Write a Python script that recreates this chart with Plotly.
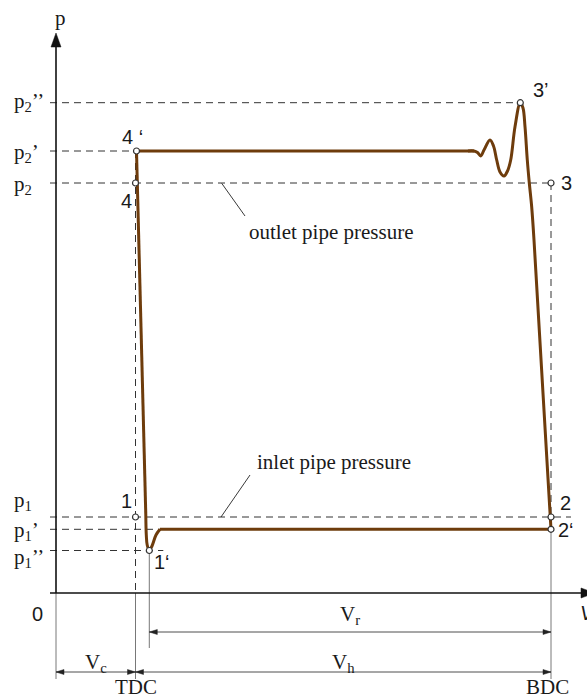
import plotly.graph_objects as go

# ---------------- data (V: volume units, p: pressure units) ----------------
V_TDC = 79.5
V_BDC = 495.0
V_1p = 93.3
V_3p = 464.3

level_names = ["p<sub>2</sub>’’", "p<sub>2</sub>’", "p<sub>2</sub>", "p<sub>1</sub>", "p<sub>1</sub>’", "p<sub>1</sub>’’"]
level_values = [490.3, 442.0, 410.0, 76.0, 63.7, 42.5]

state_labels = ["1", "1‘", "2", "2‘", "3", "3’", "4", "4 ‘"]
state_V = [79.5, 93.3, 495.0, 495.0, 495.0, 464.3, 79.5, 80.5]
state_p = [76.0, 42.5, 76.0, 63.7, 410.0, 490.3, 410.0, 442.0]

# flat discharge line from 4'
flat_V = [80.5, 418]
flat_p = [442, 442]
# pressure oscillations up to 3' and start of compression end
osc_V = [412, 418, 421.5, 424.7, 428, 434, 437.5, 440.7, 444, 448, 451.5, 454.7, 459, 464.3, 467, 469, 471.3, 473.3, 475.7, 478]
osc_p = [442, 442, 440.5, 437, 443, 453, 447, 433, 421, 417, 422, 433, 466.3, 490.3, 485, 466.3, 433, 410, 386, 353]
# compression end and suction line
suct_V = [478, 491.3, 495, 495, 104]
suct_p = [353, 133, 76, 63.7, 63.7]
# suction start dip to 1'
dip_V = [104, 100, 96, 93.3, 91.2, 90.3, 89.8]
dip_p = [63.7, 58, 47, 42.5, 48, 58, 78]
# re-expansion line
reexp_V = [89.8, 80.7, 80.5]
reexp_p = [78, 410, 442]

# ---------------- figure ----------------
fig = go.Figure()
CURVE = "#6E3C0C"
DASH = "#333333"
THIN = "#555555"
SERIF = "Liberation Serif"
SANS = "Liberation Sans"

def hline(y, x0, x1, color=DASH, width=1, dash="7px,5px"):
    fig.add_shape(type="line", x0=x0, x1=x1, y0=y, y1=y, xref="x", yref="y",
                  line=dict(color=color, width=width, dash=dash), layer="below")

def vline(x, y0, y1, color=DASH, width=1, dash="7px,5px"):
    fig.add_shape(type="line", x0=x, x1=x, y0=y0, y1=y1, xref="x", yref="y",
                  line=dict(color=color, width=width, dash=dash), layer="below")

def tri(tx, ty, dx, dy, L, W, color="#111"):
    # arrowhead with tip (tx,ty) pointing in direction (dx,dy)
    bx, by = tx - dx * L, ty - dy * L
    px, py = -dy * W, dx * W
    path = f"M {tx},{ty} L {bx+px},{by+py} L {bx-px},{by-py} Z"
    fig.add_shape(type="path", path=path, xref="x", yref="y",
                  fillcolor=color, line=dict(color=color, width=0.5))

# dashed level lines
ends = [V_3p, 80.5, V_BDC, V_BDC + 20, 104, V_1p + 14]
for v, e in zip(level_values, ends):
    hline(v, -6, e)

# vertical reference lines
vline(V_TDC, 442, 0)
vline(V_TDC, 0, -86, color=THIN, width=0.8, dash="solid")
vline(V_1p, 42.5, -55, color=THIN, width=0.8, dash="solid")
vline(V_BDC, 410, 76)
vline(V_BDC, 63.7, -86, color=THIN, width=0.8, dash="solid")

# axes
vline(0, 0, -86, color=THIN, width=0.8, dash="solid")
vline(0, 0, 548, color="#111", width=1.6, dash="solid")
hline(0, -6, 527, color="#111", width=1.6, dash="solid")
tri(0, 560, 0, 1, 14, 5)
tri(539, 0, 1, 0, 14, 5)

# dimension lines
for (a, b, y) in [(V_1p, V_BDC, -39), (V_TDC, V_BDC, -79), (0, V_TDC, -79)]:
    hline(y, a, b, color="#222", width=0.8, dash="solid")
    tri(a, y, -1, 0, 8, 2.5, color="#222")
    tri(b, y, 1, 0, 8, 2.5, color="#222")

# leader lines
fig.add_shape(type="line", x0=165.7, y0=409.7, x1=189, y1=377, line=dict(color="#222", width=0.9))
fig.add_shape(type="line", x0=194, y0=118, x1=165, y1=76, line=dict(color="#222", width=0.9))

# cycle curve
for xs, ys, shp in [(flat_V, flat_p, "linear"), (osc_V, osc_p, "spline"),
                    (suct_V, suct_p, "linear"), (dip_V, dip_p, "spline"),
                    (reexp_V, reexp_p, "linear")]:
    fig.add_trace(go.Scatter(x=xs, y=ys, mode="lines",
                             line=dict(color=CURVE, width=3, shape=shp, smoothing=1.0),
                             hoverinfo="skip"))

# state points
fig.add_trace(go.Scatter(x=state_V, y=state_p, mode="markers",
                         marker=dict(size=6, color="white", line=dict(color="#333", width=1.2)),
                         hoverinfo="skip"))

# ---------------- texts ----------------
def txt(x, y, s, font=SERIF, size=21, xanchor="center", italic=False):
    fig.add_annotation(x=x, y=y, text=s, showarrow=False, xanchor=xanchor, yanchor="middle",
                       font=dict(family=font, size=size, color="#1a1a1a",
                                 style="italic" if italic else "normal"))

level_label_p = [491, 440, 408, 92, 62, 35]
for s, y in zip(level_names, level_label_p):
    txt(-44, y, s, xanchor="left")

label_pos = {"1": (70, 92), "1‘": (105.5, 31), "2": (509.5, 90), "2‘": (509.5, 63),
             "3": (510, 410), "3’": (485, 503), "4": (70, 392), "4 ‘": (76, 456)}
for s in state_labels:
    x, y = label_pos[s]
    txt(x, y, s, font=SANS, size=20)

txt(-19, -21, "0", font=SANS, size=20)
txt(531, -20, "V", font=SANS, size=20, italic=True)
txt(0.5 * (V_1p + V_BDC), -22, "V<sub>r</sub>")
txt(0.5 * (V_TDC + V_BDC), -70, "V<sub>h</sub>")
txt(0.5 * V_TDC, -70, "V<sub>c</sub>")
txt(V_TDC, -94, "TDC")
txt(V_BDC - 4, -94, "BDC")
txt(4, 575, "p")
txt(275, 361, "outlet pipe pressure")
txt(277.6, 131, "inlet pipe pressure")

fig.update_layout(width=587, height=699, margin=dict(l=0, r=0, t=0, b=0),
                  paper_bgcolor="white", plot_bgcolor="white", showlegend=False,
                  xaxis=dict(range=[-56, 531], visible=False, fixedrange=True),
                  yaxis=dict(range=[-106, 593], visible=False, fixedrange=True))

fig.write_html("out.html")
